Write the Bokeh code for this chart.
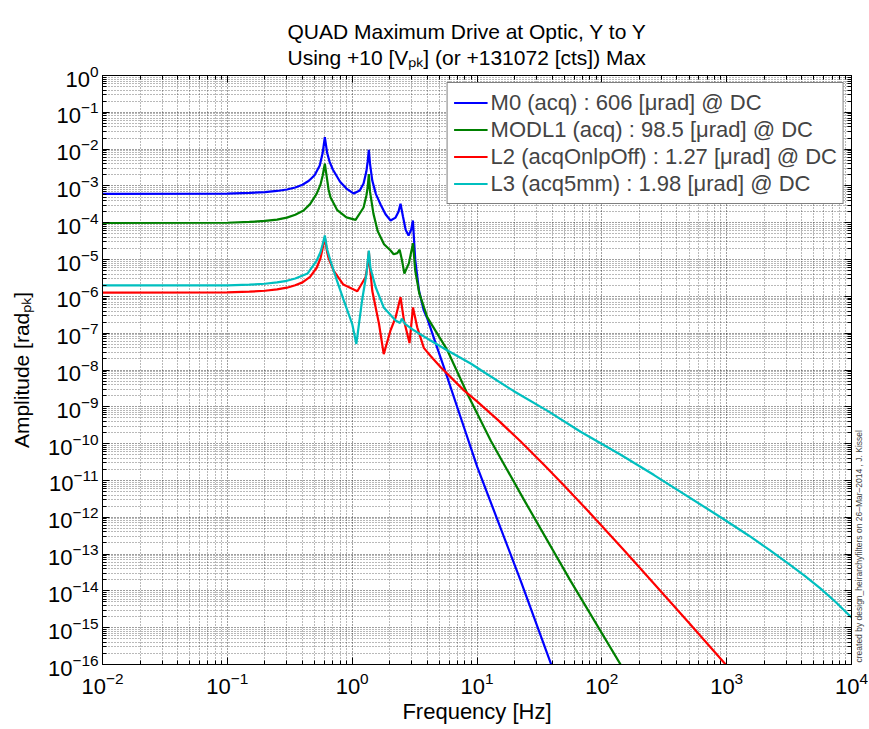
import math
from bokeh.plotting import figure
from bokeh.models import (LogAxis, FixedTicker, Label, Legend, LegendItem, Range1d,
                          CustomJSTickFormatter, Title)
from bokeh.embed import file_html
from bokeh.resources import INLINE

# ---------------- data ----------------
freq_m0 = [0.01, 0.1, 0.15, 0.2, 0.25, 0.3, 0.35, 0.4, 0.45, 0.5, 0.55, 0.58, 0.604, 0.63, 0.66,
           0.7, 0.8, 0.9, 1.03, 1.15, 1.234, 1.3, 1.33, 1.36, 1.39, 1.449, 1.55, 1.7, 1.85, 2.03,
           2.227, 2.35, 2.44, 2.55, 2.68, 2.83, 2.97, 3.065, 3.2, 3.43, 3.75, 4.0, 4.8, 5.43,
           7.39, 10.06, 22.36, 40.1, 45.0]
amp_m0 = [6.06e-4, 6.2e-4, 6.45e-4, 6.8e-4, 7.3e-4, 8.0e-4, 9.1e-4, 1.08e-3, 1.38e-3, 1.95e-3,
          3.6e-3, 7.8e-3, 2.1e-2, 8e-3, 4.5e-3, 2.8e-3, 1.3e-3, 8.5e-4, 6.2e-4, 7.5e-4, 1.16e-3,
          2.5e-3, 4.5e-3, 9.6e-3, 4e-3, 1.4e-3, 6e-4, 3.0e-4, 1.7e-4, 1.15e-4, 1.38e-4, 2.0e-4,
          3.3e-4, 1.5e-4, 6.5e-5, 4.5e-5, 6.5e-5, 1.15e-4, 1.0e-5, 1.44e-6, 4.1e-7, 2.5e-7,
          4e-8, 1.2e-8, 5.2e-10, 2.3e-11, 1.9e-14, 8.3e-17, 3.0e-17]

freq_modl1 = [0.01, 0.1, 0.15, 0.2, 0.25, 0.3, 0.35, 0.408, 0.46, 0.52, 0.558, 0.58, 0.604,
              0.63, 0.647, 0.67, 0.76, 0.9, 1.065, 1.234, 1.3, 1.33, 1.36, 1.39, 1.48, 1.6, 1.8,
              2.03, 2.15, 2.3, 2.4, 2.5, 2.62, 2.85, 3.07, 3.2, 3.45, 4.0, 5.8, 8.4, 12.9, 23.5,
              56.0, 146.0, 170.0]
amp_modl1 = [9.85e-5, 1.0e-4, 1.05e-4, 1.12e-4, 1.22e-4, 1.38e-4, 1.65e-4, 2.14e-4, 3.2e-4,
             6.2e-4, 1.1e-3, 1.9e-3, 4.0e-3, 1.5e-3, 8e-4, 4.9e-4, 2.2e-4, 1.4e-4, 1.2e-4,
             2.6e-4, 5.5e-4, 9e-4, 2.1e-3, 7e-4, 1.77e-4, 6e-5, 2.6e-5, 1.76e-5, 1.4e-5, 1.5e-5,
             1.85e-5, 1.0e-5, 4.2e-6, 8e-6, 2.8e-5, 5e-6, 1.2e-6, 2.7e-7, 3.4e-8, 2.2e-9,
             1.2e-10, 3.2e-12, 1.9e-14, 8.3e-17, 3.3e-17]

freq_l2 = [0.01, 0.1, 0.15, 0.2, 0.25, 0.3, 0.35, 0.4, 0.46, 0.52, 0.558, 0.58, 0.604, 0.63,
           0.647, 0.71, 0.85, 1.1, 1.28, 1.33, 1.36, 1.39, 1.45, 1.64, 1.79, 2.03, 2.23, 2.44,
           2.6, 2.88, 3.07, 3.32, 3.75, 4.25, 5.1, 7.85, 10.0, 14.6, 22.4, 35.0, 50.0, 76.6,
           150.0, 262.0, 500.0, 982.0, 1100.0]
amp_l2 = [1.27e-6, 1.29e-6, 1.34e-6, 1.42e-6, 1.55e-6, 1.72e-6, 2.0e-6, 2.4e-6, 3.4e-6, 6.0e-6,
          1.1e-5, 2.0e-5, 4.0e-5, 1.6e-5, 1.1e-5, 5e-6, 2.1e-6, 1.38e-6, 3.3e-6, 7e-6, 1.7e-5,
          6e-6, 1.4e-6, 1.8e-7, 2.7e-8, 1.2e-7, 2.7e-7, 9.5e-7, 2.2e-7, 5.4e-8, 5e-7, 1.45e-7,
          4e-8, 2.4e-8, 1.2e-8, 2.8e-9, 1.4e-9, 4.5e-10, 1.14e-10, 2.5e-11, 7.2e-12, 1.55e-12,
          1.29e-13, 1.56e-14, 1.34e-15, 1.0e-16, 5.5e-17]

freq_l3 = [0.01, 0.1, 0.15, 0.2, 0.25, 0.3, 0.35, 0.44, 0.52, 0.558, 0.58, 0.604, 0.63, 0.67,
           0.76, 0.858, 1.0, 1.08, 1.2, 1.3, 1.36, 1.4, 1.54, 1.79, 2.23, 2.42, 2.5, 2.65, 3.12,
           4.25, 5.8, 8.9, 10.7, 19.6, 36.5, 67.6, 141.6, 262.0, 895.0, 1500.0, 2200.0, 3062.0,
           4200.0, 5660.0, 7500.0, 10000.0]
amp_l3 = [1.98e-6, 2.0e-6, 2.08e-6, 2.2e-6, 2.4e-6, 2.65e-6, 3.05e-6, 4.2e-6, 9.4e-6, 1.6e-5,
          2.6e-5, 4.5e-5, 1.9e-5, 9.3e-6, 2.5e-6, 7.7e-7, 1.8e-7, 5.1e-8, 7.7e-7, 4e-6, 1.76e-5,
          6e-6, 1.8e-6, 5e-7, 2.2e-7, 1.9e-7, 2.5e-7, 1.8e-7, 1.2e-7, 6.3e-8, 3.4e-8, 1.5e-8,
          1.0e-8, 2.7e-9, 7.9e-10, 2.1e-10, 5e-11, 1.4e-11, 1.0e-12, 3.2e-13, 1.3e-13, 5.8e-14,
          2.6e-14, 1.15e-14, 4.9e-15, 1.9e-15]

series_labels = ["M0 (acq) : 606 [\u03bcrad] @ DC",
                 "MODL1 (acq) : 98.5 [\u03bcrad] @ DC",
                 "L2 (acqOnlpOff) : 1.27 [\u03bcrad] @ DC",
                 "L3 (acq5mm) : 1.98 [\u03bcrad] @ DC"]
series_colors = ["#0000FF", "#008000", "#FF0000", "#00BFBF"]

x_major = [10.0 ** k for k in range(-2, 5)]
x_minor = [m * 10.0 ** k for k in range(-2, 4) for m in range(2, 10)]
y_major = [10.0 ** k for k in range(-16, 1)]
y_minor = [m * 10.0 ** k for k in range(-16, 0) for m in range(2, 10)]

title_line1 = "QUAD Maximum Drive at Optic, Y to Y"
title_line2 = "Using +10 [V\u209a\u2096] (or +131072 [cts]) Max"
xlabel = "Frequency [Hz]"
ylabel = "Amplitude [rad\u209a\u2096]"
credit = "created by design_heirarchyfilters on 26\u2013Mar\u20132014 , J. Kissel"

FONT = "Liberation Sans"

# ---------------- figure ----------------
p = figure(width=868, height=728, x_axis_type="log", y_axis_type="log",
           x_range=Range1d(1e-2, 1e4), y_range=Range1d(1e-16, 1e0),
           output_backend="svg", toolbar_location=None, title=None,
           min_border_left=102, min_border_top=75, min_border_right=17, min_border_bottom=64,
           background_fill_color="white", border_fill_color="white")

p.outline_line_color = "black"
p.outline_line_width = 1

p.xaxis.ticker = FixedTicker(ticks=x_major, minor_ticks=x_minor)
p.yaxis.ticker = FixedTicker(ticks=y_major, minor_ticks=y_minor)

for ax in (p.xaxis[0], p.yaxis[0]):
    ax.major_tick_in = 7
    ax.major_tick_out = 0
    ax.minor_tick_in = 4
    ax.minor_tick_out = 0
    ax.axis_line_color = "black"
    ax.major_tick_line_color = "black"
    ax.minor_tick_line_color = "black"
    ax.major_label_text_font = FONT
    ax.major_label_text_font_size = "22px"
    ax.major_label_text_color = "black"
    ax.axis_label_text_font = FONT
    ax.axis_label_text_font_style = "normal"
    ax.axis_label_text_color = "black"

p.xaxis.major_label_standoff = 7
p.yaxis.major_label_standoff = 4
p.xaxis.axis_label = xlabel
p.xaxis.axis_label_text_font_size = "22px"
p.xaxis.axis_label_standoff = 2
p.yaxis.axis_label = ylabel
p.yaxis.axis_label_text_font_size = "21px"
p.yaxis.axis_label_standoff = 12

# mirrored ticks on top and right (no labels)
blank = CustomJSTickFormatter(code="return ''")
top_ax = LogAxis(ticker=FixedTicker(ticks=x_major, minor_ticks=x_minor), formatter=blank,
                 major_label_text_font_size="1px", major_label_standoff=0,
                 major_tick_in=7, major_tick_out=0, minor_tick_in=4, minor_tick_out=0)
right_ax = LogAxis(ticker=FixedTicker(ticks=y_major, minor_ticks=y_minor), formatter=blank,
                   major_label_text_font_size="1px", major_label_standoff=0,
                   major_tick_in=7, major_tick_out=0, minor_tick_in=4, minor_tick_out=0)
p.add_layout(top_ax, "above")
p.add_layout(right_ax, "right")

# two-line title in one block
p.add_layout(Title(text=title_line1 + "\n" + title_line2, align="left", offset=185, standoff=12,
                   text_font=FONT, text_font_size="21px", text_font_style="normal",
                   text_line_height=1.15, text_color="black"), "above")

# credit text at the right edge
p.add_layout(Label(x=7, y=2, x_units="screen", y_units="screen", text=credit,
                   text_font=FONT, text_font_size="8.5px", text_color="#444444",
                   text_align="left", text_baseline="alphabetic", angle=math.pi / 2), "right")

for g in (p.xgrid[0], p.ygrid[0]):
    g.grid_line_color = "black"
    g.grid_line_alpha = 0.75
    g.grid_line_dash = "1 2"
    g.minor_grid_line_color = "black"
    g.minor_grid_line_alpha = 0.55
    g.minor_grid_line_dash = "1 2"

# ---------------- curves ----------------
data = [(freq_m0, amp_m0), (freq_modl1, amp_modl1), (freq_l2, amp_l2), (freq_l3, amp_l3)]
renderers = []
for (fx, ay), col in zip(data, series_colors):
    r = p.line(fx, ay, line_color=col, line_width=2.2)
    renderers.append(r)

legend = Legend(items=[LegendItem(label=lab, renderers=[r]) for lab, r in zip(series_labels, renderers)],
                location="top_right", margin=7, padding=6, spacing=0,
                glyph_width=34, glyph_height=27, label_height=27, label_standoff=3,
                label_text_font=FONT, label_text_font_size="22px",
                border_line_color="black", border_line_width=1.5,
                background_fill_color="white", background_fill_alpha=1.0)
p.add_layout(legend)

open("out.html", "w").write(file_html(p, INLINE))
